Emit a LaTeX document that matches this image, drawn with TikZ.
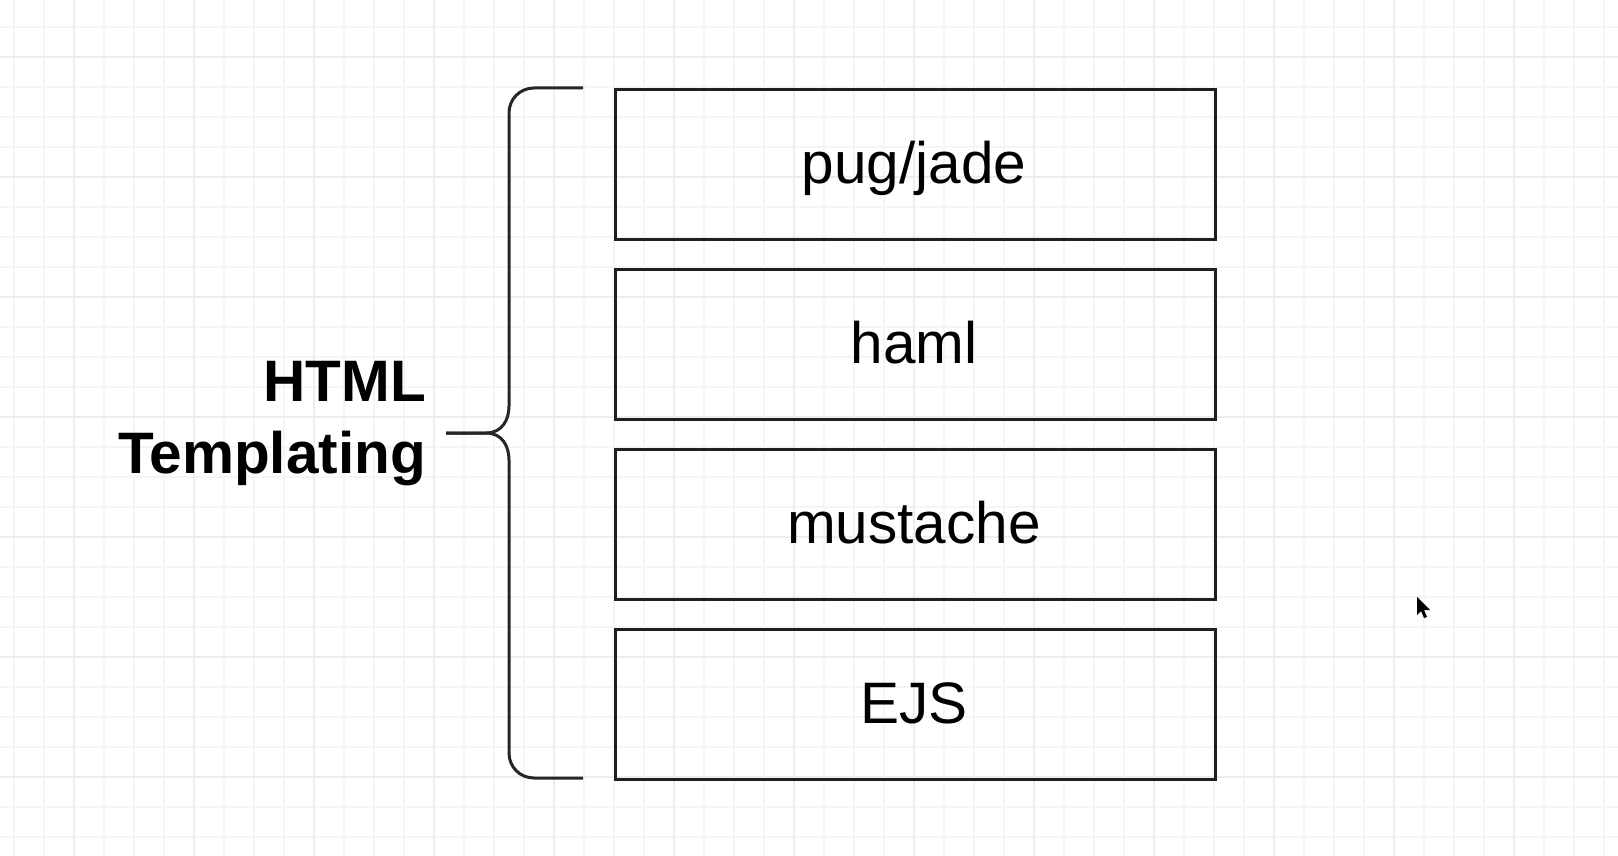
\documentclass[tikz,border=0pt]{standalone}
\usepackage{fontspec}
\setmainfont{Liberation Sans}
\begin{document}
\begin{tikzpicture}[x=1pt,y=-1pt,
  gridminor/.style={line width=1.4pt,draw=black!4},
  gridmajor/.style={line width=1.6pt,draw=black!7},
  itembox/.style={draw=black!88,line width=3pt,minimum width=600pt,minimum height=150pt,inner sep=0pt,anchor=north west,
    font=\fontsize{58.5}{70}\selectfont},
  bracestyle/.style={draw=black!85,line width=3pt},
  title/.style={font=\fontsize{58.5}{72}\selectfont\bfseries,align=right,inner sep=0pt}]
\useasboundingbox (0,0) rectangle (1618,856);
\fill[white] (0,0) rectangle (1618,856);
% grid
\foreach \x in {14,44,...,1604} \draw[gridminor] (\x,0) -- (\x,856);
\foreach \y in {27,57,...,837} \draw[gridminor] (0,\y) -- (1618,\y);
\foreach \x in {74,194,...,1514} \draw[gridmajor] (\x,0) -- (\x,856);
\foreach \y in {57,177,...,777} \draw[gridmajor] (0,\y) -- (1618,\y);
% boxes
\node[itembox] (pug) at (614,88) {};
\node[itembox] (haml) at (614,268) {};
\node[itembox] (must) at (614,448) {};
\node[itembox] (ejs) at (614,628) {};
\node[anchor=base,inner sep=0pt,font=\fontsize{58.5}{70}\selectfont] (tpug) at (914,183) {pug/jade};
\node[anchor=base,inner sep=0pt,font=\fontsize{58.5}{70}\selectfont] (thaml) at (914,363) {haml};
\node[anchor=base,inner sep=0pt,font=\fontsize{58.5}{70}\selectfont] (tmust) at (914,543) {mustache};
\node[anchor=base,inner sep=0pt,font=\fontsize{58.5}{70}\selectfont] (tejs) at (914,723) {EJS};
% label
\node[title,anchor=east] (label) at (426,424) {HTML\\Templating};
% brace
\coordinate (btop) at (583,88);
\coordinate (bbot) at (583,778);
\coordinate (btip) at (446,433);
\draw[bracestyle] (btop) -- (534,88) .. controls (520,88) and (509,99) .. (509,113) -- (509,406)
  .. controls (509,420) and (502,433) .. (486,433) -- (btip);
\draw[bracestyle] (btip) -- (486,433) .. controls (502,433) and (509,446) .. (509,460) -- (509,753)
  .. controls (509,767) and (520,778) .. (534,778) -- (bbot);
% cursor
\fill[black] (1417,597) -- (1417,615) -- (1421,611) -- (1424,618) -- (1427,617) -- (1424,610) -- (1430,610) -- cycle;
\end{tikzpicture}
\end{document}
